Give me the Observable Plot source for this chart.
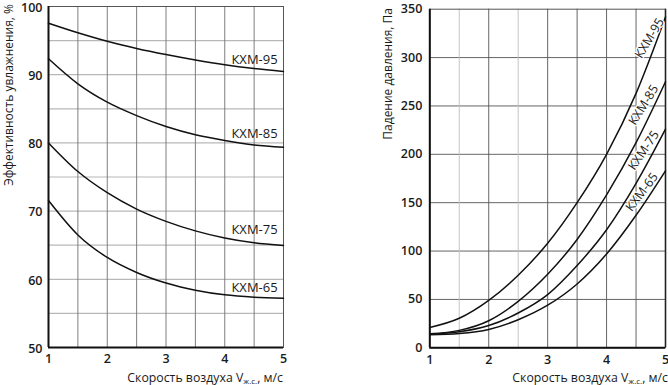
<!DOCTYPE html>
<html>
<head>
<meta charset="utf-8">
<script src="https://cdn.jsdelivr.net/npm/d3@7"></script>
<script src="https://cdn.jsdelivr.net/npm/@observablehq/plot@0.6"></script>
<style>
  body { margin: 0; background: #fff; }
  #wrap { position: relative; width: 668px; height: 385px; overflow: hidden; }
  #left, #right { position: absolute; top: 0; }
  #left { left: 0; }
  #right { left: 330px; }
</style>
</head>
<body>
<div id="wrap"><div id="left"></div><div id="right"></div></div>
<script>
// ---- data ----
const speeds = [1, 1.5, 2, 2.5, 3, 3.5, 4, 4.5, 5];
const models = ["КХМ-95", "КХМ-85", "КХМ-75", "КХМ-65"];

// Эффективность увлажнения, %
const eff95 = [97.55, 96.15, 94.9, 93.85, 92.95, 92.15, 91.45, 90.9, 90.47];
const eff85 = [92.33, 88.66, 85.97, 84.0, 82.4, 81.19, 80.35, 79.7, 79.37];
const eff75 = [80.0, 75.8, 72.7, 70.3, 68.5, 67.1, 66.05, 65.35, 64.96];
const eff65 = [71.55, 66.5, 63.2, 61.0, 59.45, 58.4, 57.72, 57.38, 57.23];

// Падение давления, Па
const dp95 = [21, 30.5, 49, 75, 108, 150, 200, 263, 342];
const dp85 = [14.5, 18, 28, 48, 76, 112, 158, 212, 275];
const dp75 = [14, 16.5, 23, 36, 55, 85, 122, 170, 226];
const dp65 = [13.5, 14.8, 19, 29, 44, 66, 97, 137, 183];

const xTicks = [1, 2, 3, 4, 5];
const effTicks = [50, 60, 70, 80, 90, 100];
const dpTicks = [0, 50, 100, 150, 200, 250, 300, 350];
const xGrid = [1.5, 2, 2.5, 3, 3.5, 4, 4.5];
const effGrid = [55, 60, 65, 70, 75, 80, 85, 90, 95];
const dpGrid = [50, 100, 150, 200, 250, 300];

// label placement (data coordinates)
const effLabelY = [92.2, 81.4, 67.3, 58.7];
const dpLabelX = [4.73, 4.63, 4.63, 4.60];
const dpLabelY = [320, 251, 204, 161];
const dpLabelRot = [-59, -58, -56, -53];

// ---- tables ----
const effSeries = [eff95, eff85, eff75, eff65];
const dpSeries = [dp95, dp85, dp75, dp65];
const effRows = models.flatMap((m, i) => speeds.map((s, j) => ({model: m, x: s, y: effSeries[i][j]})));
const dpRows = models.flatMap((m, i) => speeds.map((s, j) => ({model: m, x: s, y: dpSeries[i][j]})));
const effLabels = models.map((m, i) => ({model: m, x: 4.9, y: effLabelY[i]}));
const dpLabels = models.map((m, i) => ({model: m, x: dpLabelX[i], y: dpLabelY[i], r: dpLabelRot[i]}));

const FONT = "Open Sans, Noto Sans, sans-serif";
const INK = "#1a1a1a";

function xTitle(svg, x, y) {
  const t = d3.select(svg).append("text")
    .attr("x", x).attr("y", y).attr("text-anchor", "end")
    .attr("font-family", FONT).attr("font-size", 12.3).attr("fill", INK);
  t.append("tspan").text("Скорость воздуха V");
  t.append("tspan").attr("font-size", 8).attr("dy", 2.5).text("ж.с.");
  t.append("tspan").attr("dy", -2.5).text(", м/с");
}
function yTitle(svg, x, y, text) {
  d3.select(svg).append("text")
    .attr("transform", `translate(${x},${y}) rotate(-90)`)
    .attr("text-anchor", "end")
    .attr("font-family", FONT).attr("font-size", 12).attr("fill", INK)
    .text(text);
}

// ---- left chart ----
const left = Plot.plot({
  width: 330, height: 385,
  marginLeft: 48, marginRight: 47, marginTop: 6, marginBottom: 38,
  style: {fontFamily: FONT, fontSize: "12px", color: INK, background: "white", overflow: "visible"},
  x: {domain: [1, 5]},
  y: {domain: [50, 100]},
  marks: [
    Plot.ruleY(effGrid, {stroke: "#b8b8b8", strokeWidth: 1.2}),
    Plot.ruleX(xGrid, {stroke: "#707070", strokeWidth: 0.9}),
    Plot.frame({stroke: "#555", strokeWidth: 1}),
    Plot.ruleX([1], {stroke: "#111", strokeWidth: 2}),
    Plot.ruleY([50], {stroke: "#111", strokeWidth: 2}),
    Plot.line(effRows, {x: "x", y: "y", z: "model", curve: "monotone-x", stroke: "#111", strokeWidth: 1.5}),
    Plot.text(effLabels, {x: "x", y: "y", text: "model", textAnchor: "end", fontSize: 13, fill: INK}),
    Plot.axisX(xTicks, {tickSize: 0, tickPadding: 7, label: null, fontSize: 12.5, fontWeight: 600}),
    Plot.axisY(effTicks, {tickSize: 0, tickPadding: 6, label: null, fontSize: 12.5, fontWeight: 600, dy: 1.2})
  ]
});
xTitle(left, 283, 381.5);
yTitle(left, 12.5, 4, "Эффективность увлажнения, %");
document.getElementById("left").append(left);

// ---- right chart ----
const right = Plot.plot({
  width: 338, height: 385,
  marginLeft: 99.3, marginRight: 3, marginTop: 8.7, marginBottom: 37.7,
  style: {fontFamily: FONT, fontSize: "12px", color: INK, background: "white", overflow: "visible"},
  x: {domain: [1, 5]},
  y: {domain: [0, 350]},
  marks: [
    Plot.ruleY(dpGrid, {stroke: "#555", strokeWidth: 0.9}),
    Plot.ruleX(xGrid, {stroke: d => (d === 1.5 || d === 2.5) ? "#c0c0c0" : "#555", strokeWidth: 0.9}),
    Plot.frame({stroke: "#555", strokeWidth: 1}),
    Plot.ruleX([1], {stroke: "#111", strokeWidth: 2}),
    Plot.ruleX([5], {stroke: "#222", strokeWidth: 1.6}),
    Plot.ruleY([0], {stroke: "#111", strokeWidth: 2}),
    Plot.line(dpRows, {x: "x", y: "y", z: "model", curve: "monotone-x", stroke: "#111", strokeWidth: 1.5}),
    Plot.text(dpLabels, {x: "x", y: "y", text: "model", rotate: "r", fontSize: 12.5, fill: INK, stroke: "white", strokeWidth: 2.5}),
    Plot.axisX(xTicks, {tickSize: 0, tickPadding: 7, label: null, fontSize: 12.5, fontWeight: 600}),
    Plot.axisY(dpTicks, {tickSize: 0, tickPadding: 7.5, label: null, fontSize: 12.5, fontWeight: 600})
  ]
});
xTitle(right, 338, 381.5);
yTitle(right, 62, 8, "Падение давления, Па");
document.getElementById("right").append(right);
</script>
</body>
</html>
